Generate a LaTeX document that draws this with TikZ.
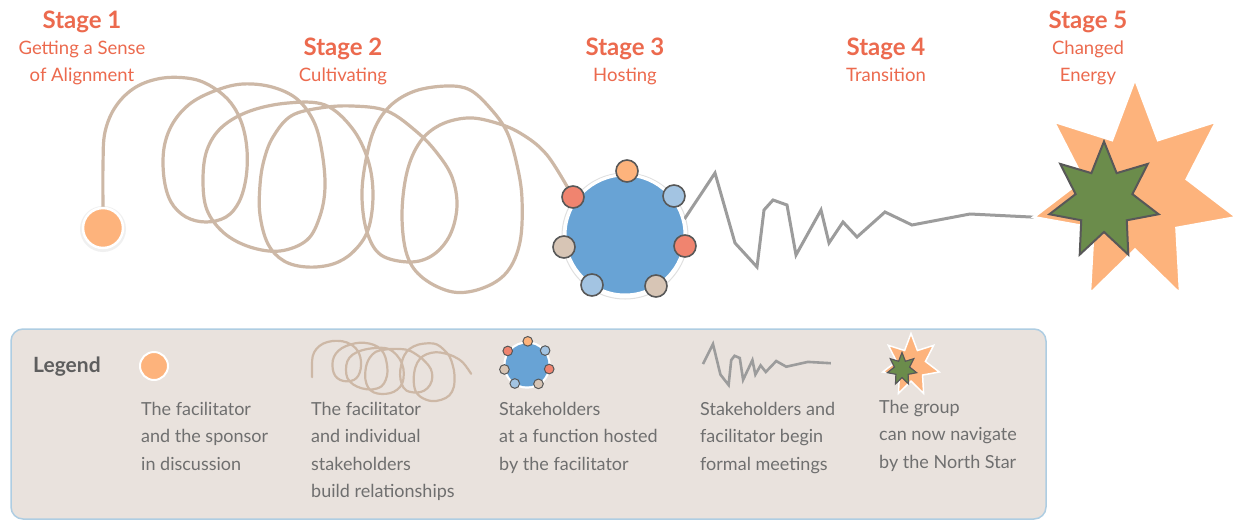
\documentclass[tikz,border=0pt]{standalone}
\usepackage{fontspec}
\setmainfont{Lato}
\usetikzlibrary{calc}
\pgfdeclarelayer{background}
\pgfsetlayers{background,main}

\definecolor{stagered}{HTML}{EC6A4E}
\definecolor{cOrange}{HTML}{FDB37C}
\definecolor{cRed}{HTML}{F0846F}
\definecolor{cLblue}{HTML}{A3C4E2}
\definecolor{cTan}{HTML}{D7C5B5}
\definecolor{cBlue}{HTML}{68A3D5}
\definecolor{cGreen}{HTML}{6B8C4B}
\definecolor{ropecol}{HTML}{CDB8A6}
\definecolor{wirecol}{HTML}{9C9C9C}
\definecolor{legendbg}{HTML}{E9E2DD}
\definecolor{legendedge}{HTML}{AECDE2}
\definecolor{legendtext}{HTML}{6F6F6F}
\definecolor{legendhead}{HTML}{5E5E5E}
\definecolor{ringedge}{HTML}{585858}

% inner points of the looping rope (pixel grid, y downwards)
\def\spiralmid{(103,165) (105,132) (116,106) (136,87) (163,78) (193,79) (214,88)
 (231,103) (242,124) (247,150) (246,178) (239,202) (226,217) (206,222) (186,217)
 (171,202) (164,178) (164,148) (173,123) (191,103) (217,90) (243,84) (272,87)
 (297,99) (314,122) (322,152) (325,187) (320,216) (307,240) (280,251) (250,247)
 (224,233) (207,210) (203,180) (207,150) (222,127) (250,111) (288,103) (325,105)
 (352,128) (368,160) (373,195) (368,230) (353,252) (333,264) (307,267) (284,261)
 (268,244) (260,215) (260,185) (264,160) (273,137) (291,116) (320,108) (352,106)
 (387,111) (417,132) (437,153) (452,177) (457,206) (450,235) (433,255) (410,262)
 (381,255) (367,232) (362,198) (365,165) (374,130) (390,106) (415,91) (447,86)
 (470,90) (490,108) (507,132) (517,165) (522,199) (520,242) (507,272) (483,288)
 (453,292) (423,278) (407,255) (402,215) (407,172) (420,142) (440,125) (467,118)
 (493,122) (520,133) (547,155)}

% inner corners of the transition line
\def\wiremid{(715,173) (735,243) (757,267) (764,210) (773,200) (787,205) (796,255)
 (821,210) (829,243) (843,222) (857,237) (885,212) (912,225) (970,214)}

% seven-pointed star: centre x, centre y, radius x, radius y, inner ratio
\newcommand{\sevenstar}[5]{%
  plot[samples at={0,...,13}]
    ({#1+(mod(\x,2)==0 ? 1 : #5)*#3*cos(90+\x*180/7)},
     {#2-(mod(\x,2)==0 ? 1 : #5)*#4*sin(90+\x*180/7)}) -- cycle}

\tikzset{
  stagehead/.style={anchor=base, inner sep=0, text=stagered,
    font=\fontsize{24}{28}\selectfont\bfseries},
  stagesub/.style={anchor=base, inner sep=0, text=stagered,
    font=\fontsize{18.5}{22}\selectfont},
  legtext/.style={anchor=north west, align=left, inner sep=0, text=legendtext,
    font=\fontsize{18}{27.5}\selectfont},
  rope line/.style={draw=ropecol, line width=3.2, line cap=round, line join=round},
  wire line/.style={draw=wirecol, line width=3, line join=miter, miter limit=20},
  dot/.style={circle, draw=ringedge, line width=1.6, minimum size=22, inner sep=0},
  sunstar/.style={fill=cOrange, draw=white, line join=miter, miter limit=10},
  northstar/.style={fill=cGreen, draw=ringedge, line join=miter, miter limit=10},
}

\begin{document}
\begin{tikzpicture}[x=1pt,y=-1pt]
\useasboundingbox (0,0) rectangle (1240,520);

% ---- stage titles ----
\node[stagehead] (st1) at (82,28) {Stage 1};
\node[stagesub] (st1a) at (82,54) {Getting a Sense};
\node[stagesub] (st1b) at (82,81) {of Alignment};
\node[stagehead] (st2) at (343,55) {Stage 2};
\node[stagesub] (st2a) at (343,81) {Cultivating};
\node[stagehead] (st3) at (625,55) {Stage 3};
\node[stagesub] (st3a) at (625,81) {Hosting};
\node[stagehead] (st4) at (886,55) {Stage 4};
\node[stagesub] (st4a) at (886,81) {Transition};
\node[stagehead] (st5) at (1088,28) {Stage 5};
\node[stagesub] (st5a) at (1088,54) {Changed};
\node[stagesub] (st5b) at (1088,81) {Energy};

% ---- stage 1: facilitator ----
\node[circle, fill=cOrange, draw=white, line width=2.5, minimum size=40, inner sep=0]
  (fac) at (103,228) {};

% ---- stage 3: hosted circle with stakeholders ----
\node[circle, fill=cBlue, draw=white, line width=3, minimum size=120, inner sep=0]
  (host) at (625,235) {};
\node[dot, fill=cOrange] (d1) at (627,171) {};
\node[dot, fill=cRed]    (d2) at (573,197) {};
\node[dot, fill=cLblue]  (d3) at (674,196) {};
\node[dot, fill=cTan]    (d4) at (564,247) {};
\node[dot, fill=cRed]    (d5) at (685,246) {};
\node[dot, fill=cLblue]  (d6) at (592,285) {};
\node[dot, fill=cTan]    (d7) at (656,286) {};

% ---- stage 5: changed energy and the north star ----
\draw[sunstar, line width=2.5] \sevenstar{1135}{192}{104}{113}{0.51};
\coordinate (suntip) at ({1135+104*cos(192.857)},{192-113*sin(192.857)});
\draw[northstar, line width=2] \sevenstar{1104}{201}{56}{59.5}{0.52};

% ---- connectors behind the shapes ----
\begin{pgfonlayer}{background}
  \fill[white] (0,0) rectangle (1240,520);
  \fill[black!6] (103,229) circle[radius=23];
  \draw[black!12, line width=1] (625,236) circle[radius=63];
  \edef\ropepath{\noexpand\draw[rope line] plot[smooth, tension=0.6]
    coordinates {(fac.north) \spiralmid\space (d2.center)};}
  \ropepath
  \edef\wirepath{\noexpand\draw[wire line] plot
    coordinates {(host.15) \wiremid\space (suntip)};}
  \wirepath
\end{pgfonlayer}

% ---- legend ----
\path[fill=legendbg, draw=legendedge, line width=1.5, rounded corners=12]
  (11,329) rectangle (1046,519);
\node[anchor=base west, inner sep=0, text=legendhead,
  font=\fontsize{21}{25}\selectfont\bfseries] (lgtitle) at (33,372) {Legend};

\node[circle, fill=cOrange, draw=white, line width=2, minimum size=28, inner sep=0]
  (lgfac) at (154,366) {};
\node[legtext] (lt1) at (141,402) {The facilitator\\and the sponsor\\in discussion};

\begin{scope}[shift={(277,319.2)}, xscale=0.34, yscale=0.28]
  \edef\minirope{\noexpand\draw[rope line, line width=2.2] plot[smooth, tension=0.6]
    coordinates {(103,207) \spiralmid\space (571,195)};}
  \minirope
\end{scope}
\node[legtext] (lt2) at (311,402)
  {The facilitator\\and individual\\stakeholders\\build relationships};

\begin{scope}[shift={(295.75,278.05)}, scale=0.37]
  \fill[white] (625,235) circle[radius=64];
  \fill[cBlue] (625,235) circle[radius=58];
  \foreach \px/\py/\c in {627/171/cOrange, 573/197/cRed, 674/196/cLblue,
      564/247/cTan, 685/246/cRed, 592/285/cLblue, 656/286/cTan}
    \filldraw[fill=\c, draw=ringedge, line width=1] (\px,\py) circle[radius=13];
\end{scope}
\node[legtext] (lt3) at (499,402)
  {Stakeholders\\at a function hosted\\by the facilitator};

\begin{scope}[shift={(447,268.6)}, xscale=0.372, yscale=0.436]
  \edef\miniwire{\noexpand\draw[wire line, line width=2.6] plot
    coordinates {(688,219) \wiremid\space (1032,217)};}
  \miniwire
\end{scope}
\node[legtext] (lt4) at (700,402)
  {Stakeholders and\\facilitator begin\\formal meetings};

\draw[sunstar, line width=1.5] \sevenstar{911}{365}{29}{31.5}{0.51};
\draw[northstar, line width=1.2] \sevenstar{902}{369}{15}{16.5}{0.52};
\node[legtext] (lt5) at (879,400)
  {The group\\can now navigate\\by the North Star};

\end{tikzpicture}
\end{document}
